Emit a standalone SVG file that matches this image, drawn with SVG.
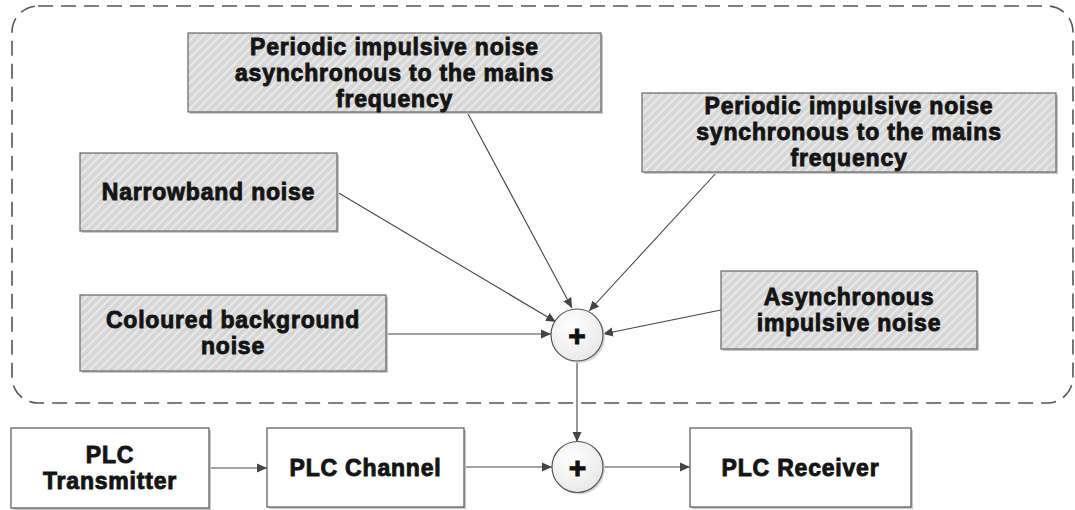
<svg xmlns="http://www.w3.org/2000/svg" width="1075" height="510" viewBox="0 0 1075 510">
  <defs>
    <pattern id="hatch" patternUnits="userSpaceOnUse" width="6" height="6" patternTransform="rotate(45)">
      <rect width="6" height="6" fill="#d6d6d6"/>
      <line x1="1" y1="0" x2="1" y2="6" stroke="#f2f2f2" stroke-width="1.4"/>
    </pattern>
    <radialGradient id="sumfill" cx="0.4" cy="0.35" r="0.75">
      <stop offset="0" stop-color="#ffffff"/>
      <stop offset="1" stop-color="#e6e6e6"/>
    </radialGradient>
    <marker id="arrow" viewBox="0 0 10 10" refX="10" refY="5" markerWidth="10" markerHeight="10" markerUnits="userSpaceOnUse" orient="auto">
      <path d="M0,0.5 L10,5 L0,9.5 Z" fill="#444"/>
    </marker>
    <style>
      .shadow { fill: #c8c8c8; }
      .noise { fill: url(#hatch); stroke: #666; stroke-width: 1.2; }
      .block { fill: #ffffff; stroke: #555; stroke-width: 1.2; }
      .lbl { font-family: "Liberation Sans", Arial, sans-serif; font-weight: bold; font-size: 23px; letter-spacing: 0.8px; fill: #141414; text-anchor: middle; stroke: #141414; stroke-width: 0.9; }
      .sum { fill: url(#sumfill); stroke: #555; stroke-width: 1.2; }
      .plus { font-family: "Liberation Sans", Arial, sans-serif; font-weight: bold; font-size: 30px; fill: #111; text-anchor: middle; stroke: #111; stroke-width: 1; }
      .conn line { stroke: #444; stroke-width: 1.1; marker-end: url(#arrow); }
      .frame { fill: none; stroke: #555; stroke-width: 1.6; stroke-dasharray: 15 8; }
    </style>
  </defs>

  <rect width="1075" height="510" fill="#ffffff"/>

  <!-- dashed boundary around the noise sources -->
  <rect id="noise-frame" class="frame" x="12" y="6" width="1061" height="397" rx="26" ry="26"/>

  <!-- connectors -->
  <g id="connectors" class="conn">
    <line x1="467" y1="112" x2="572" y2="308"/>
    <line x1="717" y1="172" x2="589" y2="311"/>
    <line x1="337" y1="192" x2="556" y2="322"/>
    <line x1="386" y1="334" x2="551" y2="334"/>
    <line x1="721" y1="310" x2="603" y2="334"/>
    <line x1="577" y1="361" x2="577" y2="442"/>
    <line x1="209" y1="468" x2="267" y2="468"/>
    <line x1="464" y1="467" x2="552" y2="467"/>
    <line x1="603" y1="467" x2="690" y2="467"/>
  </g>

  <!-- noise sources -->
  <g id="node-async-periodic">
    <rect class="shadow" x="190" y="35" width="413" height="79"/>
    <rect class="noise" x="188" y="33" width="413" height="79"/>
    <text class="lbl" x="394.5" y="54.5">Periodic impulsive noise</text>
    <text class="lbl" x="394.5" y="80.5">asynchronous to the mains</text>
    <text class="lbl" x="394.5" y="106.5">frequency</text>
  </g>

  <g id="node-sync-periodic">
    <rect class="shadow" x="644" y="95" width="414" height="79"/>
    <rect class="noise" x="642" y="93" width="414" height="79"/>
    <text class="lbl" x="849" y="114">Periodic impulsive noise</text>
    <text class="lbl" x="849" y="140">synchronous to the mains</text>
    <text class="lbl" x="849" y="166">frequency</text>
  </g>

  <g id="node-narrowband">
    <rect class="shadow" x="82" y="155" width="257" height="78"/>
    <rect class="noise" x="80" y="153" width="257" height="78"/>
    <text class="lbl" x="208.5" y="200">Narrowband noise</text>
  </g>

  <g id="node-coloured">
    <rect class="shadow" x="82" y="297" width="306" height="76"/>
    <rect class="noise" x="80" y="295" width="306" height="76"/>
    <text class="lbl" x="233" y="328">Coloured background</text>
    <text class="lbl" x="233" y="354">noise</text>
  </g>

  <g id="node-async-impulsive">
    <rect class="shadow" x="723" y="273" width="256" height="78"/>
    <rect class="noise" x="721" y="271" width="256" height="78"/>
    <text class="lbl" x="849" y="305">Asynchronous</text>
    <text class="lbl" x="849" y="331">impulsive noise</text>
  </g>

  <!-- adders -->
  <g id="node-noise-sum">
    <circle cx="579" cy="337" r="26" fill="#d8d8d8"/>
    <circle class="sum" cx="577" cy="335" r="26"/>
    <text class="plus" x="577" y="345.5">+</text>
  </g>

  <g id="node-channel-sum">
    <circle cx="579.5" cy="469" r="25.5" fill="#d8d8d8"/>
    <circle class="sum" cx="577.5" cy="467" r="25.5"/>
    <text class="plus" x="577.5" y="477.5">+</text>
  </g>

  <!-- signal chain -->
  <g id="node-transmitter">
    <rect class="shadow" x="13" y="430" width="198" height="80"/>
    <rect class="block" x="11" y="428" width="198" height="80"/>
    <text class="lbl" x="110" y="463">PLC</text>
    <text class="lbl" x="110" y="489">Transmitter</text>
  </g>

  <g id="node-channel">
    <rect class="shadow" x="269" y="430" width="197" height="79"/>
    <rect class="block" x="267" y="428" width="197" height="79"/>
    <text class="lbl" x="365.5" y="476">PLC Channel</text>
  </g>

  <g id="node-receiver">
    <rect class="shadow" x="692" y="430" width="221" height="79"/>
    <rect class="block" x="690" y="428" width="221" height="79"/>
    <text class="lbl" x="800.5" y="476">PLC Receiver</text>
  </g>
</svg>
